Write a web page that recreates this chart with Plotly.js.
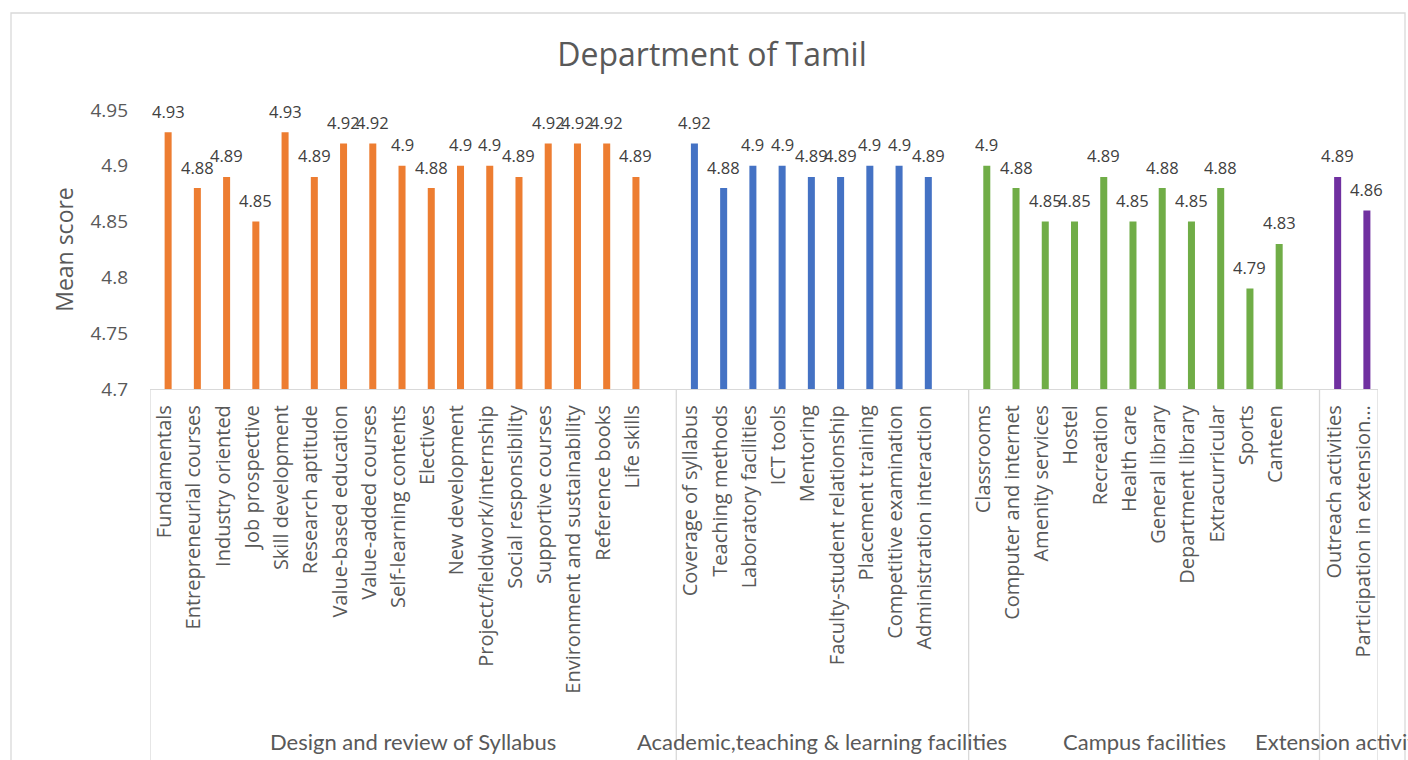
<!DOCTYPE html>
<html>
<head>
<meta charset="utf-8">
<script src="https://cdn.plot.ly/plotly-3.0.1.min.js"></script>
<style>
html, body { margin: 0; padding: 0; background: #ffffff; }
#chart { width: 1408px; height: 760px; }
</style>
</head>
<body>
<div id="chart"></div>
<script>
// ---------------- DATA ----------------
const chartTitle = "Department of Tamil";
const yAxisLabel = "Mean score";
const groupNames = [
  "Design and review of Syllabus",
  "Academic,teaching & learning facilities",
  "Campus facilities",
  "Extension activities"
];

const syllabusItems = [
  "Fundamentals", "Entrepreneurial courses", "Industry oriented", "Job prospective",
  "Skill development", "Research aptitude", "Value-based education", "Value-added courses",
  "Self-learning contents", "Electives", "New development", "Project/fieldwork/internship",
  "Social responsibility", "Supportive courses", "Environment and sustainability",
  "Reference books", "Life skills"
];
const syllabusScores = [4.93, 4.88, 4.89, 4.85, 4.93, 4.89, 4.92, 4.92, 4.9, 4.88, 4.9, 4.9, 4.89, 4.92, 4.92, 4.92, 4.89];

const teachingItems = [
  "Coverage of syllabus", "Teaching methods", "Laboratory facilities", "ICT tools",
  "Mentoring", "Faculty-student relationship", "Placement training",
  "Competitive examination", "Administration interaction"
];
const teachingScores = [4.92, 4.88, 4.9, 4.9, 4.89, 4.89, 4.9, 4.9, 4.89];

const campusItems = [
  "Classrooms", "Computer and internet", "Amenity services", "Hostel", "Recreation",
  "Health care", "General library", "Department library", "Extracurricular", "Sports", "Canteen"
];
const campusScores = [4.9, 4.88, 4.85, 4.85, 4.89, 4.85, 4.88, 4.85, 4.88, 4.79, 4.83];

const extensionItems = ["Outreach activities", "Participation in extension\u2026"];
const extensionScores = [4.89, 4.86];

const yTickValues = [4.7, 4.75, 4.8, 4.85, 4.9, 4.95];

// ---------------- STYLE ----------------
const groupColors = ["#ED7D31", "#4472C4", "#70AD47", "#7030A0"];
const W = 1408, H = 760;
const M = { l: 150, r: 30, t: 110, b: 371 };
const plotW = W - M.l - M.r, plotH = H - M.t - M.b;
const axisY = H - M.b;                  // pixel row of the category axis
const pxToPaperY = py => (axisY - py) / plotH;
const pxToPaperX = px => (px - M.l) / plotW;
const gridGrey = "#D9D9D9";
const textGrey = "#595959";
const labelGrey = "#404040";
const FONT = "'Open Sans', 'Noto Sans', sans-serif";

const groups = [
  { name: groupNames[0], items: syllabusItems,  scores: syllabusScores,  color: groupColors[0] },
  { name: groupNames[1], items: teachingItems,  scores: teachingScores,  color: groupColors[1] },
  { name: groupNames[2], items: campusItems,    scores: campusScores,    color: groupColors[2] },
  { name: groupNames[3], items: extensionItems, scores: extensionScores, color: groupColors[3] }
];

const traces = [], annotations = [], shapes = [], tickvals = [], ticktext = [];
let pos = 0;
let rangeEnd = 0;
groups.forEach((g, gi) => {
  const xs = g.items.map((_, i) => pos + i);
  traces.push({
    type: "bar",
    name: g.name,
    x: xs,
    y: g.scores,
    width: 0.24,
    offset: 0,
    marker: { color: g.color, line: { width: 0 } },
    hovertemplate: "%{text}: %{y}<extra></extra>",
    text: g.items,
    textposition: "none"
  });
  xs.forEach((x, i) => {
    tickvals.push(x);
    ticktext.push(g.items[i]);
    annotations.push({
      x: x, y: g.scores[i], xref: "x", yref: "y",
      text: String(g.scores[i]),
      showarrow: false, xanchor: "center", yanchor: "middle",
      xshift: 3.5, yshift: 21,
      font: { family: FONT, size: 16.5, color: labelGrey }
    });
  });
  const start = pos - 0.5;
  const isLast = gi === groups.length - 1;
  const end = isLast ? pos + g.items.length - 0.5 : pos + g.items.length + 0.5;
  annotations.push({
    x: (start + end) / 2, y: pxToPaperY(741), xref: "x", yref: "paper",
    text: g.name, showarrow: false, xanchor: "center", yanchor: "middle",
    font: { family: "Lato, 'Noto Sans', sans-serif", size: 22, color: textGrey }
  });
  shapes.push({
    type: "line", xref: "x", yref: "paper", x0: start, x1: start,
    y0: 0, y1: pxToPaperY(H + 5), line: { color: gridGrey, width: 1.3 }, layer: "below"
  });
  if (isLast) {
    shapes.push({
      type: "line", xref: "x", yref: "paper", x0: end, x1: end,
      y0: 0, y1: pxToPaperY(H + 5), line: { color: gridGrey, width: 1.3 }, layer: "below"
    });
    rangeEnd = end;
  }
  pos += g.items.length + 1;
});

// outer chart border
shapes.push({
  type: "rect", xref: "paper", yref: "paper",
  x0: pxToPaperX(11), x1: pxToPaperX(1405),
  y0: pxToPaperY(H + 10), y1: pxToPaperY(13),
  line: { color: gridGrey, width: 1.3 }, fillcolor: "rgba(0,0,0,0)", layer: "below"
});

const layout = {
  width: W, height: H,
  margin: M,
  paper_bgcolor: "#ffffff",
  plot_bgcolor: "#ffffff",
  showlegend: false,
  barmode: "overlay",
  title: {
    text: chartTitle,
    xref: "container", x: 712 / W, xanchor: "center",
    yref: "container", y: 1 - 55 / H, yanchor: "middle",
    font: { family: FONT, size: 32, color: textGrey }
  },
  xaxis: {
    type: "linear",
    range: [-0.5, rangeEnd],
    tickmode: "array",
    tickvals: tickvals,
    ticktext: ticktext,
    tickangle: -90,
    ticks: "",
    ticklabelstandoff: 7,
    showgrid: false,
    zeroline: false,
    showline: true,
    linecolor: gridGrey,
    linewidth: 1.3,
    tickfont: { family: FONT, size: 20, color: textGrey },
    fixedrange: true,
    automargin: false
  },
  yaxis: {
    range: [4.7, 4.95],
    tickmode: "array",
    tickvals: yTickValues,
    ticktext: yTickValues.map(v => String(v)),
    ticks: "",
    ticklabelstandoff: 21,
    showgrid: false,
    zeroline: false,
    showline: false,
    tickfont: { family: FONT, size: 19, color: textGrey },
    title: { text: yAxisLabel, standoff: 10, font: { family: FONT, size: 23, color: textGrey } },
    fixedrange: true,
    automargin: false
  },
  annotations: annotations,
  shapes: shapes
};

Plotly.newPlot("chart", traces, layout, { displayModeBar: false, staticPlot: false, responsive: false });
</script>
</body>
</html>
